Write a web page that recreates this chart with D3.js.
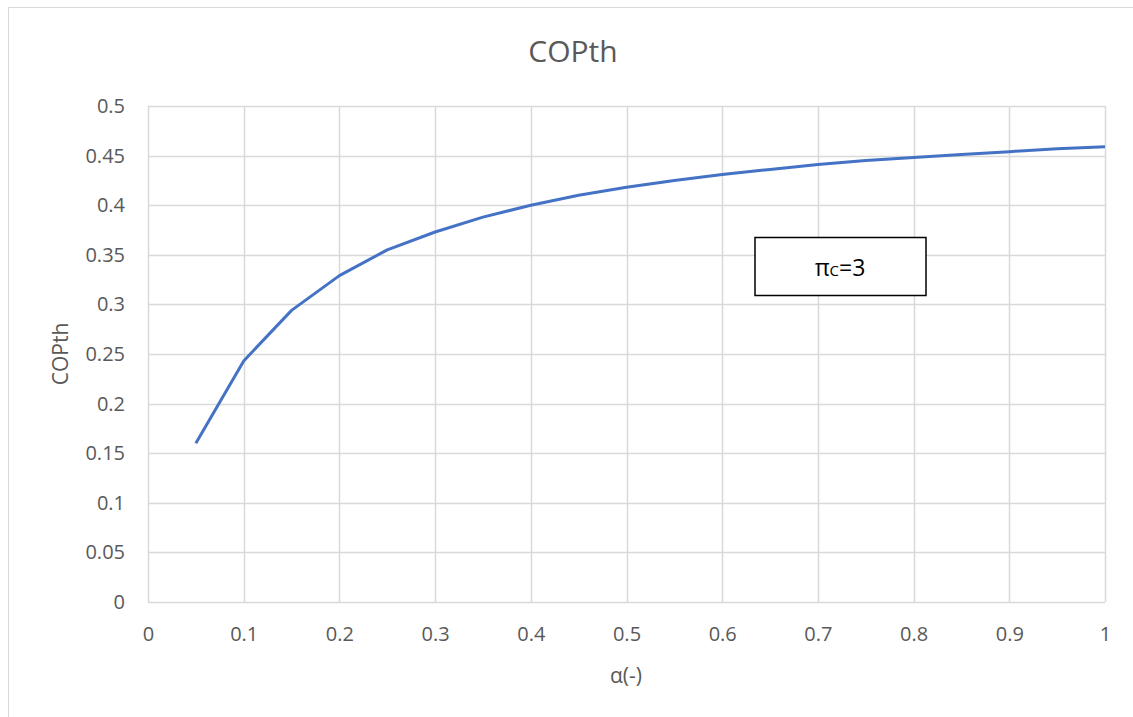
<!DOCTYPE html>
<html>
<head>
<meta charset="utf-8">
<script src="https://cdn.jsdelivr.net/npm/d3@7"></script>
<style>
  html, body { margin: 0; padding: 0; background: #fff; }
  svg { display: block; }
  text { font-family: "Open Sans", sans-serif; fill: #595959; }
</style>
</head>
<body>
<svg id="chart" width="1133" height="717"></svg>
<script>
// Pressure ratio fraction α and the resulting theoretical COP (πC = 3)
const alphaValues = [0.05, 0.10, 0.15, 0.20, 0.25, 0.30, 0.35, 0.40, 0.45, 0.50,
                     0.55, 0.60, 0.65, 0.70, 0.75, 0.80, 0.85, 0.90, 0.95, 1.00];
const copValues   = [0.160, 0.243, 0.294, 0.329, 0.355, 0.373, 0.388, 0.400, 0.410, 0.418,
                     0.425, 0.431, 0.436, 0.441, 0.445, 0.448, 0.451, 0.454, 0.457, 0.459];
const xTicks = [0, 0.1, 0.2, 0.3, 0.4, 0.5, 0.6, 0.7, 0.8, 0.9, 1];
const yTicks = [0, 0.05, 0.1, 0.15, 0.2, 0.25, 0.3, 0.35, 0.4, 0.45, 0.5];

const svg = d3.select("#chart");

// chart frame
svg.append("rect")
  .attr("x", 8.5).attr("y", 7.5)
  .attr("width", 1140).attr("height", 720)
  .attr("fill", "#fff").attr("stroke", "#d9d9d9").attr("stroke-width", 1);

const plot = { left: 148, right: 1105, top: 106, bottom: 602 };

const x = d3.scaleLinear().domain([0, 1]).range([plot.left, plot.right]);
const y = d3.scaleLinear().domain([0, 0.5]).range([plot.bottom, plot.top]);

// gridlines
const grid = svg.append("g");
grid.selectAll("line.h").data(yTicks).join("line")
  .attr("x1", plot.left).attr("x2", plot.right)
  .attr("y1", d => Math.round(y(d)) + 0.5).attr("y2", d => Math.round(y(d)) + 0.5)
  .attr("stroke", "#d9d9d9").attr("stroke-width", 1.5);
grid.selectAll("line.v").data(xTicks).join("line")
  .attr("y1", plot.top).attr("y2", plot.bottom)
  .attr("x1", d => Math.round(x(d)) + 0.5).attr("x2", d => Math.round(x(d)) + 0.5)
  .attr("stroke", "#d9d9d9").attr("stroke-width", 1.5);

// axes (labels only, Excel style)
const fmt = d => String(+d.toFixed(2));
const xAxis = svg.append("g")
  .attr("transform", `translate(0,${plot.bottom})`)
  .call(d3.axisBottom(x).tickValues(xTicks).tickFormat(fmt).tickSize(0).tickPadding(25));
xAxis.select(".domain").remove();
xAxis.selectAll("text").style("font-size", "20px").attr("fill", "#595959")
  .style("font-family", "'Open Sans', sans-serif");

const yAxis = svg.append("g")
  .attr("transform", `translate(${plot.left},0)`)
  .call(d3.axisLeft(y).tickValues(yTicks).tickFormat(fmt).tickSize(0).tickPadding(23));
yAxis.select(".domain").remove();
yAxis.selectAll("text").style("font-size", "20px").attr("fill", "#595959")
  .style("font-family", "'Open Sans', sans-serif");

// data line
const line = d3.line()
  .x((d, i) => x(alphaValues[i]))
  .y(d => y(d));
svg.append("path")
  .datum(copValues)
  .attr("d", line)
  .attr("fill", "none")
  .attr("stroke", "#4472c4")
  .attr("stroke-width", 3)
  .attr("stroke-linejoin", "round");

// title
svg.append("text")
  .attr("x", 573).attr("y", 50)
  .attr("text-anchor", "middle").attr("dominant-baseline", "central")
  .style("font-size", "30px")
  .text("COPth");

// axis titles
svg.append("text")
  .attr("x", 626).attr("y", 675)
  .attr("text-anchor", "middle").attr("dominant-baseline", "central")
  .style("font-size", "21px")
  .text("α(-)");

svg.append("text")
  .attr("transform", `translate(60,354) rotate(-90)`)
  .attr("text-anchor", "middle").attr("dominant-baseline", "central")
  .style("font-size", "21px")
  .text("COPth");

// annotation box
svg.append("rect")
  .attr("x", 755).attr("y", 237.5)
  .attr("width", 171).attr("height", 58)
  .attr("fill", "#fff").attr("stroke", "#000").attr("stroke-width", 1.5);
const note = svg.append("text")
  .attr("x", 840).attr("y", 276)
  .attr("text-anchor", "middle")
  .style("font-size", "23px").style("fill", "#000");
note.append("tspan").text("π");
note.append("tspan").style("font-size", "15px").text("C");
note.append("tspan").text("=3");
</script>
</body>
</html>
